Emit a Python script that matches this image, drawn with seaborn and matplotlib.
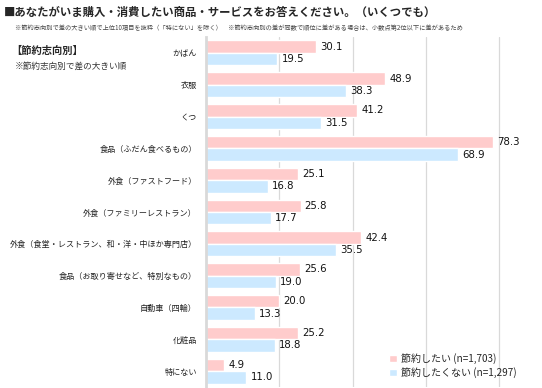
import numpy as np
import pandas as pd
import matplotlib
matplotlib.use("Agg")
import matplotlib.pyplot as plt
import seaborn as sns

# --- data ---
categories = [
    "かばん",
    "衣服",
    "くつ",
    "食品（ふだん食べるもの）",
    "外食（ファストフード）",
    "外食（ファミリーレストラン）",
    "外食（食堂・レストラン、和・洋・中ほか専門店）",
    "食品（お取り寄せなど、特別なもの）",
    "自動車（四輪）",
    "化粧品",
    "特にない",
]
saving_yes = [30.1, 48.9, 41.2, 78.3, 25.1, 25.8, 42.4, 25.6, 20.0, 25.2, 4.9]
saving_no = [19.5, 38.3, 31.5, 68.9, 16.8, 17.7, 35.5, 19.0, 13.3, 18.8, 11.0]
series_names = ["節約したい (n=1,703)", "節約したくない (n=1,297)"]

df = pd.DataFrame({
    "item": categories * 2,
    "value": saving_yes + saving_no,
    "group": [series_names[0]] * len(categories) + [series_names[1]] * len(categories),
})

sns.set_style("white")
plt.rcParams["font.family"] = ["Noto Sans CJK JP", "DejaVu Sans"]

fig = plt.figure(figsize=(5.42, 3.88), dpi=100)
ax = fig.add_axes([206 / 542, 1 / 388, 336 / 542, 350 / 388])

sns.barplot(
    data=df, y="item", x="value", hue="group", order=categories,
    hue_order=series_names, palette=["#FFCCCC", "#CCE9FF"],
    orient="h", width=0.78, ax=ax, saturation=1, legend=True,
)

ax.set_xlim(0, 91.7)
ax.set_xticks([20, 40, 60, 80])
ax.set_xticklabels([])
ax.grid(axis="x", color="#D9D9D9", lw=0.9)
ax.set_axisbelow(True)
ax.set_xlabel("")
ax.set_ylabel("")
for s in ["top", "right", "bottom"]:
    ax.spines[s].set_visible(False)
ax.spines["left"].set_color("#D9D9D9")
ax.spines["left"].set_linewidth(2)
ax.tick_params(axis="y", length=0, pad=6.5, labelsize=5.85, labelcolor="#222222")
ax.tick_params(axis="x", length=0)

for cont in ax.containers:
    ax.bar_label(cont, fmt="%.1f", padding=3, fontsize=7.3, color="#111111",
                 family="DejaVu Sans")

leg = ax.legend(loc="lower right", bbox_to_anchor=(0.95, 0.0), frameon=False,
                fontsize=7.2, handlelength=0.75, handleheight=0.75,
                handletextpad=0.4, labelspacing=0.3)

fig.text(0.007, 0.968, "■あなたがいま購入・消費したい商品・サービスをお答えください。（いくつでも）",
         fontsize=8.2, fontweight="bold", va="center", ha="left")
fig.text(0.028, 0.928,
         "※節約志向別で差の大きい順で上位10項目を抜粋（「特にない」を除く）　"
         "※節約志向別の差が同数で順位に差がある場合は、小数点第2位以下に差があるため",
         fontsize=4.5, color="#444444", va="center", ha="left")
fig.text(0.02, 0.868, "【節約志向別】", fontsize=7.4, fontweight="bold",
         va="center", ha="left")
fig.text(0.028, 0.830, "※節約志向別で差の大きい順", fontsize=6.2, color="#333333",
         va="center", ha="left")

fig.savefig("out.png", dpi=100)
